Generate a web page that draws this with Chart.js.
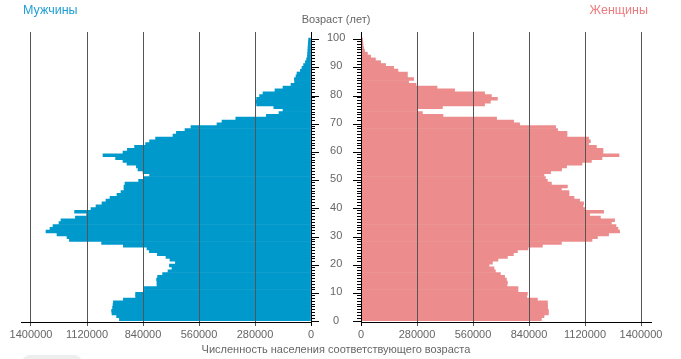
<!DOCTYPE html>
<html>
<head>
<meta charset="utf-8">
<script src="https://cdn.jsdelivr.net/npm/chart.js@4.4.0/dist/chart.umd.min.js"></script>
<style>
body { margin: 0; background: #fff; font-family: "Liberation Sans", Arial, sans-serif; }
#wrap { position: relative; width: 681px; height: 359px; overflow: hidden; }
canvas { position: absolute; top: 0; }
.lbl { position: absolute; white-space: nowrap; color: #666; font-size: 11px; line-height: 13px; }
</style>
</head>
<body>
<div id="wrap">
  <canvas id="men" width="350" height="359" style="left:0"></canvas>
  <canvas id="women" width="341" height="359" style="left:340px"></canvas>
  <div class="lbl" style="left:23px;top:4px;font-size:12.5px;line-height:12.5px;color:#1f9fd5">Мужчины</div>
  <div class="lbl" style="right:33px;top:4px;font-size:12.5px;line-height:12.5px;color:#ec7b7f">Женщины</div>
  <div class="lbl" style="left:0;width:672px;text-align:center;top:13px">Возраст (лет)</div>
  <div class="lbl" style="left:0;width:672px;text-align:center;top:343px">Численность населения соответствующего возраста</div>
  <div style="position:absolute;left:22px;top:355px;width:60px;height:20px;border-radius:8px;background:#eee"></div>
</div>
<script>
// ages 0..99, one bar per year
var ages = Array.from({length: 100}, function (_, i) { return i; });
var yTicks = ages.concat([100]);
var xTicks = [0, 280000, 560000, 840000, 1120000, 1400000];

var men = [958000, 972000, 995000, 997000, 992000, 990000, 988000, 938000, 877000, 877000,
  833000, 833000, 770000, 770000, 772000, 767000, 742000, 715000, 695000, 708000,
  678000, 705000, 725000, 768000, 808000, 820000, 938000, 1047000, 1208000, 1220000,
  1270000, 1325000, 1305000, 1290000, 1260000, 1250000, 1178000, 1122000, 1182000, 1100000,
  1075000, 1045000, 1025000, 1005000, 970000, 950000, 935000, 935000, 930000, 862000,
  834000, 807000, 840000, 865000, 873000, 920000, 940000, 977000, 1040000, 940000,
  918000, 882000, 827000, 807000, 777000, 690000, 673000, 630000, 600000, 470000,
  445000, 376000, 223000, 160000, 140000, 186000, 272000, 275000, 272000, 257000,
  240000, 180000, 140000, 100000, 82000, 83000, 75000, 70000, 53000, 45000,
  37000, 28000, 22000, 18000, 17000, 16000, 15000, 14000, 13000, 12000];

var women = [902000, 915000, 937000, 937000, 933000, 933000, 932000, 882000, 828000, 832000,
  785000, 785000, 730000, 732000, 727000, 718000, 697000, 672000, 665000, 640000,
  657000, 685000, 732000, 762000, 782000, 835000, 907000, 1002000, 1155000, 1182000,
  1238000, 1293000, 1285000, 1275000, 1252000, 1268000, 1197000, 1143000, 1213000, 1118000,
  1110000, 1113000, 1093000, 1065000, 1040000, 1040000, 1002000, 1032000, 952000, 932000,
  922000, 915000, 948000, 1003000, 1028000, 1105000, 1152000, 1205000, 1290000, 1210000,
  1210000, 1177000, 1138000, 1147000, 1138000, 1030000, 1030000, 983000, 973000, 793000,
  763000, 678000, 410000, 307000, 282000, 407000, 618000, 647000, 682000, 652000,
  618000, 468000, 380000, 275000, 238000, 263000, 232000, 232000, 185000, 163000,
  123000, 98000, 72000, 48000, 32000, 18000, 13000, 10000, 9000, 8000];

var xMax = 1450000;
var yMax = 101.65;
var tickFont = {family: '"Liberation Sans", Arial, sans-serif', size: 11};

function isTen(c) { return !!(c.tick && c.tick.value % 10 === 0); }
function isZero(c) { return !!(c.tick && c.tick.value === 0); }

// short ticks for every year, the library draws the long ones at each ten
var minorTicks = {
  id: 'minorTicks',
  afterDraw: function (chart, args, opts) {
    var y = chart.scales.y, ctx = chart.ctx;
    var x0 = opts.left ? y.left : y.right;
    var dir = opts.left ? 1 : -1;
    ctx.save();
    ctx.strokeStyle = '#000';
    ctx.lineWidth = 1;
    ctx.beginPath();
    ages.forEach(function (a) {
      if (a % 10 === 0) return;
      var py = Math.round(y.getPixelForValue(a)) + 0.5;
      ctx.moveTo(x0, py);
      ctx.lineTo(x0 + dir * 4, py);
    });
    ctx.stroke();
    ctx.restore();
  }
};

function pyramid(id, values, color, isLeft) {
  return new Chart(document.getElementById(id), {
    type: 'bar',
    data: {
      datasets: [{
        data: values.map(function (v, i) { return {x: v, y: ages[i] + 0.5}; }),
        backgroundColor: color,
        borderWidth: 0,
        barPercentage: 1,
        categoryPercentage: 1
      }]
    },
    options: {
      indexAxis: 'y',
      responsive: false,
      animation: false,
      events: [],
      layout: {
        autoPadding: false,
        padding: isLeft ? {left: 21, top: 32, right: 0, bottom: 0} : {left: 0, top: 32, right: 30, bottom: 0}
      },
      plugins: {legend: {display: false}, tooltip: {enabled: false}, minorTicks: {left: isLeft}},
      scales: {
        x: {
          type: 'linear', min: 0, max: xMax, reverse: isLeft, position: 'bottom',
          afterBuildTicks: function (s) { s.ticks = xTicks.map(function (v) { return {value: v}; }); },
          afterFit: function (s) { s.height = 37; },
          grid: {
            z: 1,
            color: function (c) { return isZero(c) ? 'rgba(0,0,0,0)' : '#555'; },
            tickColor: function (c) { return isZero(c) ? '#000' : '#555'; },
            tickLength: 4
          },
          border: {display: true, color: '#000', z: 2},
          ticks: {autoSkip: false, maxRotation: 0, padding: 2, color: '#666', font: tickFont,
            callback: function (v) { return String(v); }}
        },
        y: {
          type: 'linear', min: 0, max: yMax, position: isLeft ? 'right' : 'left',
          afterBuildTicks: function (s) { s.ticks = yTicks.map(function (v) { return {value: v}; }); },
          afterFit: function (s) { s.width = isLeft ? 39 : 21; },
          grid: {
            z: 1,
            drawOnChartArea: false, tickLength: 8,
            tickColor: function (c) { return isTen(c) ? '#000' : 'rgba(0,0,0,0)'; }
          },
          border: {display: true, color: '#000', z: 2},
          ticks: {autoSkip: false, crossAlign: 'center', padding: 8, color: '#666', font: tickFont,
            display: isLeft,
            callback: function (v) { return v % 10 === 0 ? String(v) : ''; }}
        }
      }
    },
    plugins: [minorTicks]
  });
}

pyramid('men', men, '#0099cc', true);
pyramid('women', women, '#ec8c8c', false);
</script>
</body>
</html>
